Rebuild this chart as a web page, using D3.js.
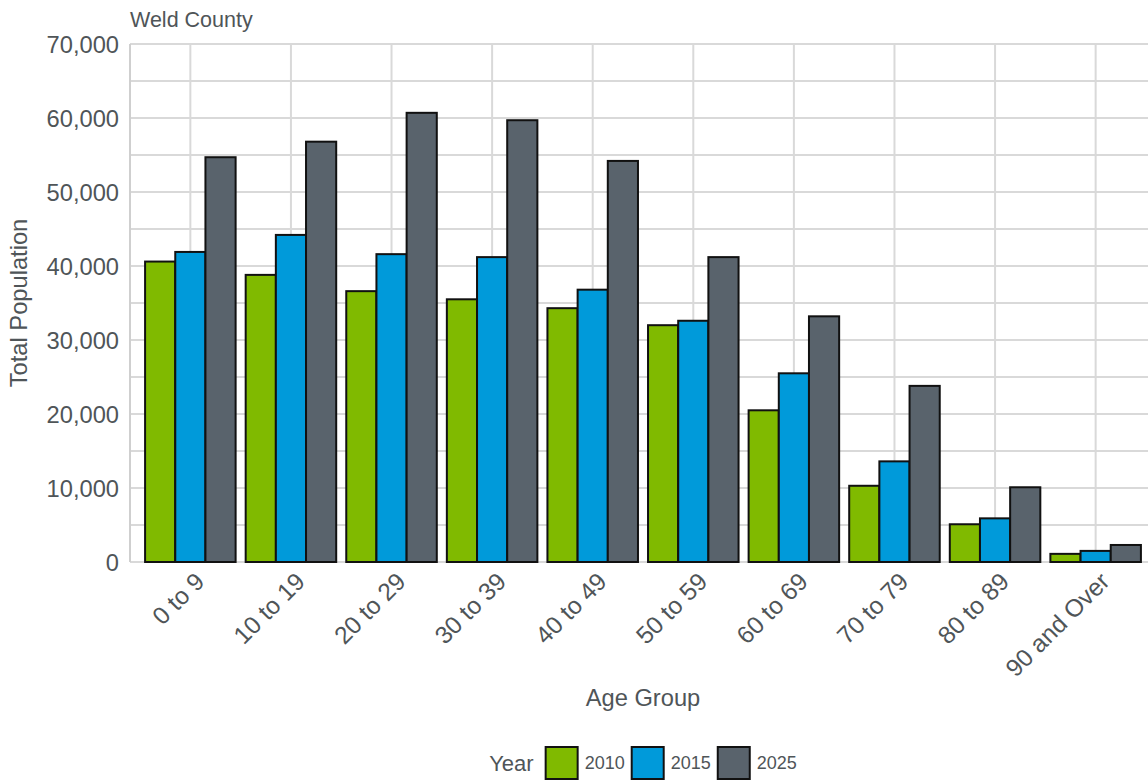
<!DOCTYPE html>
<html>
<head>
<meta charset="utf-8">
<script src="https://cdn.jsdelivr.net/npm/d3@7"></script>
<style>
  html, body { margin: 0; padding: 0; background: #fff; }
  svg { display: block; }
  text { font-family: "Liberation Sans", Arial, Helvetica, sans-serif; }
</style>
</head>
<body>
<svg id="chart" width="1148" height="781"></svg>
<script>
const categories = ["0 to 9", "10 to 19", "20 to 29", "30 to 39", "40 to 49", "50 to 59", "60 to 69", "70 to 79", "80 to 89", "90 and Over"];
const years = ["2010", "2015", "2025"];
const values2010 = [40600, 38800, 36600, 35500, 34300, 32000, 20500, 10300, 5100, 1100];
const values2015 = [41900, 44200, 41600, 41200, 36800, 32600, 25500, 13600, 5900, 1500];
const values2025 = [54700, 56800, 60700, 59700, 54200, 41200, 33200, 23800, 10100, 2300];
const yTicks = [0, 10000, 20000, 30000, 40000, 50000, 60000, 70000];
const yMinor = [5000, 15000, 25000, 35000, 45000, 55000, 65000];
const colors = ["#80ba00", "#009ada", "#59636c"];
const subtitleText = "Weld County";
const xTitle = "Age Group";
const yTitle = "Total Population";
const legendTitle = "Year";

(function () {
const seriesValues = [values2010, values2015, values2025];
const rows = categories.map((c, i) => ({cat: c, vals: years.map((y, j) => ({year: y, j, v: seriesValues[j][i]}))}));

const svg = d3.select("#chart");
const pL = 130, pR = 1156, pT = 44, pB = 562;
const textColor = "#4f5558";
const gridColor = "#d9d9d9";

const x = d3.scalePoint().domain(categories).range([pL, pR]).padding(0.6);
const y = d3.scaleLinear().domain([0, 70000]).range([pB, pT]);
const groupW = x.step() * 0.9;
const xs = d3.scaleBand().domain(years).range([-groupW / 2, groupW / 2]).padding(0);

// grid
const grid = svg.append("g");
grid.selectAll("line.minor").data(yMinor).join("line")
  .attr("x1", pL).attr("x2", pR)
  .attr("y1", d => y(d)).attr("y2", d => y(d))
  .attr("stroke", gridColor).attr("stroke-width", 1.8);
grid.selectAll("line.major").data(yTicks).join("line")
  .attr("x1", pL).attr("x2", pR)
  .attr("y1", d => y(d)).attr("y2", d => y(d))
  .attr("stroke", gridColor).attr("stroke-width", 2);
grid.selectAll("line.vx").data(categories).join("line")
  .attr("x1", d => x(d)).attr("x2", d => x(d))
  .attr("y1", pT).attr("y2", pB)
  .attr("stroke", gridColor).attr("stroke-width", 2);
svg.append("line").attr("x1", pL).attr("x2", pL).attr("y1", pT).attr("y2", pB)
  .attr("stroke", "#cfcfcf").attr("stroke-width", 2);

// bars
const g = svg.append("g");
g.selectAll("g.grp").data(rows).join("g")
  .attr("transform", d => `translate(${x(d.cat)},0)`)
  .selectAll("rect").data(d => d.vals).join("rect")
  .attr("x", d => xs(d.year))
  .attr("width", xs.bandwidth())
  .attr("y", d => y(d.v))
  .attr("height", d => y(0) - y(d.v))
  .attr("fill", d => colors[d.j])
  .attr("stroke", "#111")
  .attr("stroke-width", 2);

// y axis
const yAxis = d3.axisLeft(y).tickValues(yTicks).tickFormat(d3.format(",")).tickSize(0).tickPadding(11);
const ya = svg.append("g").attr("transform", `translate(${pL},0)`).call(yAxis);
ya.select(".domain").remove();
ya.selectAll("text").attr("fill", textColor).style("font-size", "23.7px").attr("dy", "0.35em");

// x axis
const xAxis = d3.axisBottom(x).tickSize(0).tickPadding(0);
const xa = svg.append("g").attr("transform", `translate(0,${pB})`).call(xAxis);
xa.select(".domain").remove();
xa.selectAll(".tick text")
  .attr("fill", textColor).style("font-size", "24.5px")
  .attr("text-anchor", "end")
  .attr("x", 0).attr("y", 0).attr("dy", "0.75em")
  .attr("transform", "translate(2,8) rotate(-45)");

// titles
svg.append("text").attr("x", pL).attr("y", 27).attr("fill", textColor).style("font-size", "21.5px").text(subtitleText);
svg.append("text").attr("x", (pL + pR) / 2).attr("y", 706).attr("text-anchor", "middle")
  .attr("fill", textColor).style("font-size", "23.7px").text(xTitle);
svg.append("text").attr("transform", `translate(27,${(pT + pB) / 2}) rotate(-90)`).attr("text-anchor", "middle")
  .attr("fill", textColor).style("font-size", "23.7px").text(yTitle);

// legend
const leg = svg.append("g");
const ly = 763;
const lt = leg.append("text").attr("y", ly).attr("dy", "0.35em").attr("fill", textColor).style("font-size", "22px").text(legendTitle);
let cx = lt.node().getComputedTextLength() + 12;
years.forEach((yr, j) => {
  leg.append("rect").attr("x", cx).attr("y", ly - 16).attr("width", 32).attr("height", 32)
    .attr("fill", colors[j]).attr("stroke", "#111").attr("stroke-width", 2);
  cx += 32 + 7;
  const t = leg.append("text").attr("x", cx).attr("y", ly).attr("dy", "0.35em").attr("fill", textColor)
    .style("font-size", "18px").text(yr);
  cx += t.node().getComputedTextLength() + 7;
});
const lw = cx - 7;
leg.attr("transform", `translate(${(pL + pR) / 2 - lw / 2},0)`);
})();
</script>
</body>
</html>
